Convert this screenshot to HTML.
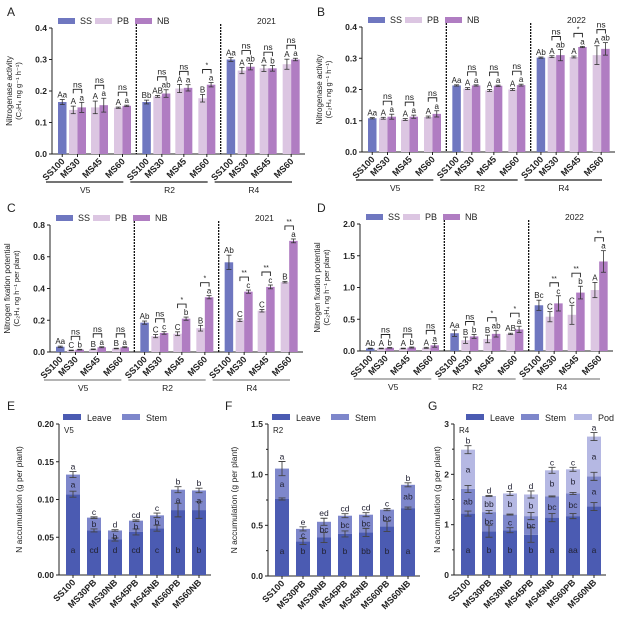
<!DOCTYPE html>
<html><head><meta charset="utf-8"><style>
body{margin:0;background:#fff;}
svg{display:block;font-family:"Liberation Sans",Arial,sans-serif;}
</style></head><body>
<svg id="fig" width="621" height="620" viewBox="0 0 621 620" xmlns="http://www.w3.org/2000/svg"></svg>
<script>
// ---------- Panel A data (nitrogenase activity 2021) ----------
const stages = ["V5","R2","R4"];
const treatments = ["SS100","MS30","MS45","MS60"];
const aSS = [0.165,0.165,0.300];
const aPB = [0.140,0.148,0.147, 0.183,0.208,0.177, 0.265,0.272,0.285];
const aNB = [0.148,0.155,0.153, 0.192,0.210,0.220, 0.277,0.272,0.300];
const aSSe = [0.008,0.006,0.006];
const aPBe = [0.012,0.020,0.002, 0.003,0.013,0.012, 0.010,0.010,0.016];
const aNBe = [0.016,0.022,0.002, 0.012,0.010,0.007, 0.010,0.009,0.004];
const aSSl = ["Aa","Bb","Aa"];
const aPBl = ["A","A","A","AB","A","B","A","A","A"];
const aNBl = ["a","a","a","ab","a","a","ab","b","a"];
const aSig = ["ns","ns","ns","ns","ns","*","ns","ns","ns"];
// ---------- Panel B data (2022) ----------
const bSS = [0.108,0.213,0.302];
const bPB = [0.108,0.104,0.112, 0.203,0.197,0.200, 0.305,0.304,0.310];
const bNB = [0.113,0.113,0.122, 0.213,0.212,0.214, 0.310,0.336,0.330];
const bSSe = [0.002,0.002,0.002];
const bPBe = [0.003,0.003,0.003, 0.003,0.003,0.003, 0.003,0.003,0.030];
const bNBe = [0.008,0.005,0.010, 0.002,0.002,0.003, 0.018,0.002,0.020];
const bSSl = ["Aa","Aa","Ab"];
const bPBl = ["A","A","A","A","A","A","A","A","A"];
const bNBl = ["a","a","a","a","a","a","ab","a","ab"];
const bSig = ["ns","ns","ns","ns","ns","ns","ns","*","ns"];
// ---------- Panel C data (N fixation potential 2021) ----------
const cSS = [0.033,0.185,0.565];
const cPB = [0.010,0.017,0.022, 0.100,0.115,0.150, 0.200,0.260,0.440];
const cNB = [0.015,0.030,0.030, 0.120,0.210,0.345, 0.380,0.410,0.700];
const cSSe = [0.004,0.010,0.045];
const cPBe = [0.002,0.002,0.002, 0.010,0.012,0.018, 0.008,0.008,0.005];
const cNBe = [0.002,0.003,0.003, 0.008,0.010,0.010, 0.010,0.012,0.012];
const cSSl = ["Aa","Ab","Ab"];
const cPBl = ["C","B","B","C","C","B","C","C","B"];
const cNBl = ["b","a","a","c","b","a","c","c","a"];
const cSig = ["ns","ns","ns","ns","*","*","**","**","**"];
// ---------- Panel D data (2022) ----------
const dSS = [0.040,0.280,0.720];
const dPB = [0.040,0.040,0.050, 0.170,0.190,0.270, 0.540,0.570,0.960];
const dNB = [0.050,0.055,0.090, 0.230,0.270,0.340, 0.750,0.920,1.410];
const dSSe = [0.005,0.050,0.080];
const dPBe = [0.005,0.005,0.008, 0.050,0.060,0.010, 0.080,0.150,0.120];
const dNBe = [0.005,0.008,0.030, 0.030,0.050,0.050, 0.120,0.100,0.170];
const dSSl = ["Ab","Aa","Bc"];
const dPBl = ["A","A","A","B","B","AB","C","C","A"];
const dNBl = ["b","b","a","b","ab","a","c","b","a"];
const dSig = ["ns","ns","ns","ns","*","*","**","**","**"];
// ---------- Panels E/F/G (N accumulation) ----------
const accCats = ["SS100","MS30PB","MS30NB","MS45PB","MS45NB","MS60PB","MS60NB"];
const eLeave = [0.107,0.059,0.047,0.057,0.062,0.086,0.086];
const eTotal = [0.133,0.076,0.059,0.072,0.079,0.113,0.112];
const eLeaveErr = [0.004,0.002,0.002,0.004,0.004,0.009,0.011];
const eTotalErr = [0.004,0.001,0.001,0.001,0.003,0.004,0.003];
const eLeaveL = ["a","cd","d","cd","c","b","b"];
const eStemL = ["a","b","b","b","b","a","a"];
const eTopL = ["a","c","d","cd","c","b","b"];
const fLeave = [0.76,0.34,0.38,0.415,0.43,0.49,0.67];
const fTotal = [1.06,0.465,0.535,0.595,0.605,0.655,0.90];
const fLeaveErr = [0.01,0.03,0.05,0.03,0.04,0.05,0.01];
const fTotalErr = [0.07,0.02,0.035,0.02,0.02,0.01,0.02];
const fLeaveL = ["a","b","b","b","bb","b","a"];
const fStemL = ["a","c","bc","bc","bc","bc","ab"];
const fTopL = ["a","e","ed","cd","cd","c","b"];
const gLeave = [1.22,0.87,0.89,0.80,1.14,1.17,1.36];
const gStem = [1.71,1.25,1.20,1.17,1.56,1.62,1.96];
const gTotal = [2.49,1.57,1.62,1.60,2.08,2.10,2.75];
const gLeaveErr = [0.05,0.12,0.05,0.15,0.08,0.05,0.08];
const gStemErr = [0.07,0.03,0.01,0.07,0.01,0.02,0.08];
const gTotalErr = [0.08,0.01,0.04,0.07,0.06,0.04,0.08];
const gLeaveL = ["a","b","b","b","a","aa","a"];
const gStemL = ["ab","bc","c","bc","bc","bc","a"];
const gPodL = ["a","bb","b","b","b","b","a"];
const gTopL = ["b","d","d","d","c","c","a"];

const SVGNS="http://www.w3.org/2000/svg";
const svg=document.getElementById('fig');
function mk(tag,attrs,parent,text){const e=document.createElementNS(SVGNS,tag);for(const k in attrs)e.setAttribute(k,attrs[k]);if(text!==undefined)e.textContent=text;(parent||svg).appendChild(e);return e;}
const COL={SS:"#6f77c0",PB:"#dcc6e2",NB:"#b07dc2",LV:"#4b5bb2",ST:"#7e87cb",PD:"#b5b8e3",AX:"#222"};

function barPanel(p){
  const g=mk('g',{});
  
  
  const y=v=>p.y0-(v/p.ymax)*(p.y0-p.ytop);
  const sw=(p.right-p.ox)/3, bw=8.5, offs=[17,39,62];
  const lt=mk('text',{x:p.lx,y:p.ly,'font-size':12,fill:'#222'},g,p.letter);
  
  mk('line',{x1:p.ox,y1:p.ytop,x2:p.ox,y2:p.y0,stroke:COL.AX,'stroke-width':1},g);
  mk('line',{x1:p.ox,y1:p.y0,x2:p.right,y2:p.y0,stroke:COL.AX,'stroke-width':1},g);
  p.ticks.forEach(t=>{
    mk('line',{x1:p.ox-3,y1:y(t),x2:p.ox,y2:y(t),stroke:COL.AX},g);
    const tx=mk('text',{x:p.ox-5,y:y(t)+3,'font-size':8.5,'text-anchor':'end','font-weight':'bold',fill:'#222'},g,t.toFixed(1));
    
  });
  const cy=(p.ytop+p.y0)/2;
  const t1=mk('text',{x:0,y:0,'font-size':8,'text-anchor':'middle',fill:'#222',transform:`translate(${p.ox-40},${cy}) rotate(-90)`},g,p.ytitle);
  
  const t2=mk('text',{x:0,y:0,'font-size':7.5,'text-anchor':'middle',fill:'#222',transform:`translate(${p.ox-31},${cy}) rotate(-90)`},g,p.yunit);
  
  [1,2].forEach(i=>{const dv=mk('line',{x1:p.ox+i*sw,y1:p.ytop-4,x2:p.ox+i*sw,y2:p.y0,stroke:'#111','stroke-width':1.3,'stroke-dasharray':'2,1'},g);
    });
  const leg=[["SS",COL.SS,6],["PB",COL.PB,43],["NB",COL.NB,83]];
  leg.forEach(([n,c,o])=>{
    const r=mk('rect',{x:p.ox+o,y:p.ytop-10,width:17,height:6,fill:c},g);
    
    const tt=mk('text',{x:p.ox+o+22,y:p.ytop-4,'font-size':9,fill:'#222'},g,n);
    
  });
  const yr=mk('text',{x:p.ox+205,y:p.ytop-4,'font-size':8.5,fill:'#222'},g,p.year);
  
  function errbar(cx,v,e){
    mk('line',{x1:cx,y1:y(v-e),x2:cx,y2:y(v+e),stroke:'#333','stroke-width':0.8},g);
    mk('line',{x1:cx-2.5,y1:y(v+e),x2:cx+2.5,y2:y(v+e),stroke:'#333','stroke-width':0.8},g);
    mk('line',{x1:cx-2.5,y1:y(v-e),x2:cx+2.5,y2:y(v-e),stroke:'#333','stroke-width':0.8},g);
  }
  function lab(cx,v,e,s){const t=mk('text',{x:cx,y:y(v+e)-2,'font-size':8,'text-anchor':'middle',fill:'#222'},g,s);
    }
  function xlab(x,s){mk('line',{x1:x,y1:p.y0,x2:x,y2:p.y0+3,stroke:COL.AX},g);
    const t=mk('text',{x:0,y:0,'font-size':9,'font-weight':'bold','text-anchor':'end',fill:'#222',transform:`translate(${x+3},${p.y0+8}) rotate(-45)`},g,s);
    }
  for(let s=0;s<3;s++){
    const sx=p.ox+s*sw;
    const bx=sx+6;
    const r=mk('rect',{x:bx,y:y(p.ss[s]),width:bw,height:p.y0-y(p.ss[s]),fill:COL.SS},g);
    
    errbar(bx+bw/2,p.ss[s],p.sse[s]);lab(bx+bw/2,p.ss[s],p.sse[s],p.ssl[s]);
    xlab(bx+bw/2,treatments[0]);
    for(let k=0;k<3;k++){
      const i=s*3+k, px=sx+offs[k], nx=px+bw;
      const r1=mk('rect',{x:px,y:y(p.pb[i]),width:bw,height:p.y0-y(p.pb[i]),fill:COL.PB},g);
      
      const r2=mk('rect',{x:nx,y:y(p.nb[i]),width:bw,height:p.y0-y(p.nb[i]),fill:COL.NB},g);
      
      errbar(px+bw/2,p.pb[i],p.pbe[i]);errbar(nx+bw/2,p.nb[i],p.nbe[i]);
      lab(px+bw/2,p.pb[i],p.pbe[i],p.pbl[i]);lab(nx+bw/2,p.nb[i],p.nbe[i],p.nbl[i]);
      const top=Math.min(y(p.pb[i]+p.pbe[i]),y(p.nb[i]+p.nbe[i]))-13;
      const br=mk('path',{d:`M${px+bw/2},${top+4}V${top}H${nx+bw/2}V${top+4}`,fill:'none',stroke:'#222','stroke-width':0.9},g);
      
      const st=mk('text',{x:px+bw,y:top-2,'font-size':p.sig[i]==="ns"?8.5:7,'text-anchor':'middle',fill:'#222'},g,p.sig[i]);
      
      xlab(nx,treatments[k+1]);
    }
    const ly=p.y0+28;
    const sl=mk('line',{x1:sx-6,y1:ly,x2:sx+sw-13,y2:ly,stroke:p.lineCol,'stroke-width':1.2},g);
    
    const stx=mk('text',{x:sx+sw/2-9,y:ly+11,'font-size':8.5,'text-anchor':'middle',fill:'#222'},g,stages[s]);
    
  }
}
const actT="Nitrogenase activity", actU="(C\u2082H\u2084 ng g\u207B\u00B9 h\u207B\u00B9)";
const fixT="Nitrogen fixation potential", fixU="(C\u2082H\u2084 ng h\u207B\u00B9 per plant)";
barPanel({name:'panel-a-chart',letter:'A',lx:7,ly:16,ox:52,y0:154,ytop:28,right:305,ymax:0.4,ticks:[0,0.1,0.2,0.3,0.4],ytitle:actT,yunit:actU,year:'2021',lineCol:'#222',ss:aSS,pb:aPB,nb:aNB,sse:aSSe,pbe:aPBe,nbe:aNBe,ssl:aSSl,pbl:aPBl,nbl:aNBl,sig:aSig});
barPanel({name:'panel-b-chart',letter:'B',lx:317,ly:16,ox:362,y0:152,ytop:27,right:615,ymax:0.4,ticks:[0,0.1,0.2,0.3,0.4],ytitle:actT,yunit:actU,year:'2022',lineCol:'#222',ss:bSS,pb:bPB,nb:bNB,sse:bSSe,pbe:bPBe,nbe:bNBe,ssl:bSSl,pbl:bPBl,nbl:bNBl,sig:bSig});
barPanel({name:'panel-c-chart',letter:'C',lx:7,ly:212,ox:50,y0:352,ytop:225,right:303,ymax:0.8,ticks:[0,0.2,0.4,0.6,0.8],ytitle:fixT,yunit:fixU,year:'2021',lineCol:'#888',ss:cSS,pb:cPB,nb:cNB,sse:cSSe,pbe:cPBe,nbe:cNBe,ssl:cSSl,pbl:cPBl,nbl:cNBl,sig:cSig});
barPanel({name:'panel-d-chart',letter:'D',lx:317,ly:212,ox:360,y0:351,ytop:224,right:613,ymax:2.0,ticks:[0,0.5,1.0,1.5,2.0],ytitle:fixT,yunit:fixU,year:'2022',lineCol:'#888',ss:dSS,pb:dPB,nb:dNB,sse:dSSe,pbe:dPBe,nbe:dNBe,ssl:dSSl,pbl:dPBl,nbl:dNBl,sig:dSig});

function stackPanel(p){
  const g=mk('g',{});
  
  
  const y=v=>p.y0-(v/p.ymax)*(p.y0-p.ytop);
  const lt=mk('text',{x:p.lx,y:410,'font-size':12,fill:'#222'},g,p.letter);
  
  mk('line',{x1:p.ox,y1:p.ytop,x2:p.ox,y2:p.y0,stroke:COL.AX},g);
  mk('line',{x1:p.ox,y1:p.y0,x2:p.ox+152,y2:p.y0,stroke:COL.AX},g);
  p.ticks.forEach(t=>{
    mk('line',{x1:p.ox-3,y1:y(t),x2:p.ox,y2:y(t),stroke:COL.AX},g);
    const tx=mk('text',{x:p.ox-5,y:y(t)+3,'font-size':8.5,'text-anchor':'end','font-weight':'bold',fill:'#222'},g,t.toFixed(p.dec));
    
  });
  (p.minor||[]).forEach(t=>mk('line',{x1:p.ox-2,y1:y(t),x2:p.ox,y2:y(t),stroke:COL.AX},g));
  const yt=mk('text',{x:0,y:0,'font-size':8.5,'text-anchor':'middle',fill:'#222',transform:`translate(${p.ox-p.tOff},${(p.ytop+p.y0)/2}) rotate(-90)`},g,'N accumulation (g per plant)');
  
  const st=mk('text',{x:p.ox+5,y:p.ytop+9,'font-size':8,fill:'#222'},g,p.stage);
  
  p.legend.forEach(([n,c,o])=>{
    const r=mk('rect',{x:p.ox+o,y:414,width:18,height:6,fill:c},g);
    
    const tt=mk('text',{x:p.ox+o+24,y:421,'font-size':9,fill:'#222'},g,n);
    
  });
  const bw=14;
  function err(cx,v,e){mk('path',{d:`M${cx-3.5},${y(v+e)}H${cx+3.5}M${cx},${y(v+e)}V${y(v-e)}M${cx-3.5},${y(v-e)}H${cx+3.5}`,stroke:'#444','stroke-width':0.9,fill:'none'},g);}
  function txt(cx,yy,s,nm){const t=mk('text',{x:cx,y:yy,'font-size':8.5,'text-anchor':'middle',fill:'#223'},g,s);
    }
  accCats.forEach((c,i)=>{
    const bx=p.ox+7+i*21, cx=bx+bw/2;
    const segs=p.segs.map(s=>s[i]);
    let prev=0;
    segs.forEach((v,k)=>{
      const r=mk('rect',{x:bx,y:y(v),width:bw,height:y(prev)-y(v),fill:p.cols[k]},g);
      
      prev=v;
    });
    segs.forEach((v,k)=>err(cx,v,p.errs[k][i]));
    txt(cx,p.y0-22,p.labs[0][i],'leave-letter');
    for(let k=1;k<segs.length;k++){
      const mid=(y(segs[k-1])+y(segs[k]))/2+3;
      txt(cx,Math.max(mid,y(segs[k])+9),p.labs[k][i],p.segNames[k]+'-letter');
    }
    const last=segs.length-1;
    txt(cx,y(segs[last]+p.errs[last][i])-2,p.topL[i],'total-letter');
    mk('line',{x1:cx,y1:p.y0,x2:cx,y2:p.y0+3,stroke:COL.AX},g);
    const xl=mk('text',{x:0,y:0,'font-size':9,'font-weight':'bold','text-anchor':'end',fill:'#222',transform:`translate(${cx+3},${p.y0+8}) rotate(-45)`},g,c);
    
  });
}
stackPanel({name:'panel-e-chart',letter:'E',lx:7,ox:59,tOff:37,y0:575,ytop:424,ymax:0.2,ticks:[0,0.05,0.1,0.15,0.2],dec:2,stage:'V5',
  legend:[["Leave",COL.LV,4],["Stem",COL.ST,63]],cols:[COL.LV,COL.ST],segNames:['leave','stem'],
  segs:[eLeave,eTotal],errs:[eLeaveErr,eTotalErr],labs:[eLeaveL,eStemL],topL:eTopL});
stackPanel({name:'panel-f-chart',letter:'F',lx:225,ox:268,tOff:31,y0:576,ytop:424,ymax:1.5,ticks:[0,0.5,1.0,1.5],minor:[0.25,0.75,1.25],dec:1,stage:'R2',
  legend:[["Leave",COL.LV,4],["Stem",COL.ST,63]],cols:[COL.LV,COL.ST],segNames:['leave','stem'],
  segs:[fLeave,fTotal],errs:[fLeaveErr,fTotalErr],labs:[fLeaveL,fStemL],topL:fTopL});
stackPanel({name:'panel-g-chart',letter:'G',lx:428,ox:454,tOff:14,y0:575,ytop:424,ymax:3,ticks:[0,1,2,3],minor:[0.5,1.5,2.5],dec:0,stage:'R4',
  legend:[["Leave",COL.LV,12],["Stem",COL.ST,67],["Pod",COL.PD,120]],cols:[COL.LV,COL.ST,COL.PD],segNames:['leave','stem','pod'],
  segs:[gLeave,gStem,gTotal],errs:[gLeaveErr,gStemErr,gTotalErr],labs:[gLeaveL,gStemL,gPodL],topL:gTopL});
</script>
</body></html>
